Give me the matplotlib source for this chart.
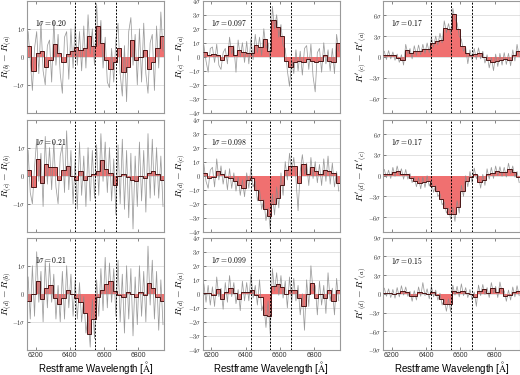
import numpy as np
import matplotlib
matplotlib.use("Agg")
import matplotlib.pyplot as plt

plt.rcParams["mathtext.fontset"] = "cm"
plt.rcParams["font.family"] = ["Liberation Sans", "DejaVu Sans"]

# wavelength grid (Angstrom)
bin_edges = np.arange(6150, 6951, 25)
gray_wave = np.arange(6150 + 6.25, 6950, 12.5)
line_waves = [6430, 6545, 6667]

ylabels = [
    [r"$R_{(b)} - R_{(a)}$", r"$R_{(c)} - R_{(a)}$", r"$R'_{(c)} - R'_{(a)}$"],
    [r"$R_{(c)} - R_{(b)}$", r"$R_{(d)} - R_{(c)}$", r"$R'_{(d)} - R'_{(c)}$"],
    [r"$R_{(d)} - R_{(b)}$", r"$R_{(d)} - R_{(a)}$", r"$R'_{(d)} - R'_{(a)}$"],
]
sigmas = [["0.20", "0.097", "0.17"], ["0.21", "0.098", "0.17"], ["0.21", "0.099", "0.15"]]

# binned residuals, in units of sigma
bins_11 = [0.4, -0.5, 0.15, 0.2, -0.35, -0.1, 0.45, 0.15, -0.2, 0.1, 0.2, 0.35, 0.25, 0.3, 0.75, 0.4,
           1.1, 0.5, -0.1, -0.45, -0.2, 0.3, -0.55, -0.35, 0.6, -0.1, 0.0, 0.25, -0.45, -0.2, 0.3, 0.75]
bins_12 = [0.35, 0.1, 0.2, 0.1, -0.25, 0.1, 0.75, 0.1, 0.5, 0.35, 0.3, 0.3, 0.85, 0.7, 1.3, 0.4,
           2.6, 2.1, 1.5, -0.3, -0.75, -0.4, -0.3, -0.35, -0.15, -0.3, -0.4, -0.3, 0.1, -0.3, -0.35, 1.0]
bins_13 = [0.2, 0.3, 0.2, -0.2, -0.4, 1.0, 0.5, 0.8, 0.9, 1.1, 1.2, 2.0, 2.3, 2.5, 4.2, 4.0,
           6.2, 4.0, 1.5, 0.5, 0.3, 0.4, 0.5, 0.0, -0.5, -0.8, -0.6, -0.4, -0.3, -0.4, 0.2, 0.8]
bins_21 = [0.2, -0.4, 0.6, -0.25, 0.4, 0.3, 0.3, -0.15, 0.2, 0.35, 0.0, -0.15, 0.15, -0.15, 0.0, 0.05,
           0.15, 0.55, 0.25, 0.1, -0.35, 0.0, 0.05, -0.05, -0.15, -0.2, 0.0, -0.1, 0.1, 0.15, 0.05, -0.15]
bins_22 = [0.2, -0.2, -0.1, 0.3, 0.1, -0.1, -0.2, -0.4, -0.7, -0.85, -0.3, -0.15, -1.0, -1.7, -2.4, -2.9,
           -2.0, -1.6, -0.7, 0.4, 0.7, 0.7, -0.5, 0.8, 0.1, 0.6, 0.3, 0.1, 0.4, 0.3, 0.2, -0.5]
bins_23 = [0.3, 0.3, 0.5, 0.7, 0.3, 0.2, -0.3, -0.8, -1.0, -0.9, -0.8, -1.5, -2.2, -3.4, -4.6, -5.5,
           -5.5, -4.5, -2.2, -0.8, -0.2, 0.3, -0.9, -0.6, 0.2, 0.4, 0.7, 0.6, 0.5, 1.0, 0.6, -0.2]
bins_31 = [-0.25, 0.0, 0.45, -0.2, 0.2, 0.3, -0.15, -0.35, -0.15, 0.15, 0.0, -0.15, -0.3, -0.7, -1.45, -0.9,
           -0.1, 0.15, 0.35, 0.45, 0.1, -0.05, -0.1, 0.05, 0.0, -0.1, 0.05, -0.05, 0.4, 0.2, -0.1, -0.25]
bins_32 = [0.05, 0.05, -0.1, 0.35, -0.35, 0.1, 0.45, 0.05, -0.4, 0.1, 0.1, 0.3, -0.1, -0.2, -1.5, -1.55,
           0.55, 0.7, 0.5, 0.0, 0.3, 0.3, -0.3, -0.9, 0.0, 0.75, -0.3, 0.0, -0.3, 0.3, -0.5, 0.3]
bins_33 = [0.2, 0.1, 0.0, 0.2, 0.5, 0.3, -0.4, -0.3, 0.3, 0.2, 0.0, 0.3, -0.2, -0.8, -1.7, -1.7,
           0.5, 0.3, 0.5, 0.2, -0.1, -0.5, 0.5, 0.7, 0.2, 0.9, 0.3, 1.0, -0.3, -0.2, 0.3, 0.5]

# unbinned residuals, in units of sigma
gray_11 = [0.9, -0.1, -1.2, 0.3, 0.9, -0.6, 1.2, -0.5, -1.0, 0.4, 0.6, -0.9, 1.3, -0.3, 0.8, -0.6,
           -1.3, 0.7, 0.9, -0.8, 1.0, -0.4, 1.2, -0.3, 0.9, -0.5, 1.1, -0.4, 1.5, 0.1, 1.0, -0.3,
           1.9, 0.4, 1.3, -0.4, 0.7, -0.9, -1.1, 0.3, -0.9, 0.6, 1.2, -0.6, -1.4, 0.4, -1.6, 0.9,
           1.4, -0.3, 0.8, -1.0, 1.0, -0.9, 1.2, -0.6, -1.3, 0.5, 0.8, -1.2, 1.1, -0.4, 1.6, 0.2]
gray_12 = [0.8, -0.3, -1.1, 0.6, 0.7, -0.4, 0.9, -0.6, -0.9, 0.3, 0.6, -0.5, 1.4, 0.2, 0.8, -1.1,
           1.2, 0.0, 1.0, -0.4, 1.1, -0.5, 1.3, -0.2, 1.6, 0.3, 1.4, 0.1, 2.0, 0.6, 1.0, -0.2,
           3.6, 2.0, 3.0, 1.4, 2.3, 0.8, 0.6, -1.0, -2.1, -0.2, -1.2, 0.5, -1.0, 0.4, -1.3, 0.6,
           0.8, -0.9, 0.9, -1.4, -2.5, 0.3, 0.6, -1.1, 1.0, -0.5, 0.5, -1.0, 0.6, -1.2, 1.6, 0.4]
gray_13 = [0.8, -0.4, 0.9, -0.3, 0.7, -0.5, 0.4, -0.8, 0.3, -1.2, 1.8, 0.4, 1.2, -0.3, 1.6, 0.2,
           1.7, 0.3, 1.8, 0.5, 2.0, 0.6, 2.8, 1.4, 3.0, 1.7, 3.4, 2.0, 5.2, 3.5, 4.8, 3.3,
           7.0, 5.4, 4.9, 3.0, 2.5, 0.8, 1.4, -1.0, 1.0, -0.5, 1.2, -0.4, 1.3, -0.3, 0.8, -0.9,
           0.3, -1.6, -0.1, -2.0, 0.4, -1.4, 0.5, -1.2, 0.6, -1.1, 0.5, -1.3, 1.0, -0.6, 1.8, 0.0]
gray_21 = [0.9, -0.6, -1.0, 0.3, 1.3, -0.2, 0.8, -1.1, 1.4, -0.3, 1.0, -0.5, 1.2, -0.4, -1.0, 0.7,
           1.1, -0.6, 1.6, -0.5, 0.9, -1.0, 0.6, -1.2, 1.2, -0.7, 0.7, -1.1, 1.0, -0.9, 0.9, -0.8,
           1.1, -0.7, 1.5, -0.2, 1.2, -0.6, 1.0, -0.9, 0.6, -1.4, 1.1, -1.0, 1.3, -1.2, 0.9, -1.5,
           0.8, -1.9, 0.7, -1.1, 1.2, -0.9, 0.9, -1.3, 1.5, -0.8, 1.3, -0.7, 1.0, -0.8, 0.7, -1.1]
gray_22 = [0.8, -0.4, -0.9, 0.4, 0.6, -0.8, 1.2, -0.3, 0.7, -0.6, 0.4, -1.0, 0.5, -0.9, 0.2, -1.1,
           -0.1, -1.4, -0.3, -1.5, 0.2, -0.9, 0.6, -0.8, -0.4, -1.8, -1.0, -2.4, -1.7, -3.2, -2.3, -3.8,
           -1.3, -2.8, -0.8, -2.3, 0.2, -1.4, 1.0, -0.3, 1.6, 0.2, 1.3, -0.2, -2.5, 0.3, 1.5, 0.1,
           0.9, -0.7, 1.3, -0.2, 1.0, -0.5, 0.8, -0.7, 1.2, -0.4, 1.4, -0.6, 0.9, -0.8, 0.3, -1.1]
gray_23 = [0.9, -0.3, 0.8, -0.4, 1.2, -0.1, 1.4, 0.1, 1.0, -0.5, 0.9, -0.5, 0.3, -1.0, -0.2, -1.6,
           -0.3, -1.9, -0.2, -1.7, 0.0, -1.5, -0.7, -2.4, -1.4, -3.0, -2.6, -4.2, -3.8, -5.4, -4.7, -6.3,
           -4.6, -6.6, -3.6, -5.4, -1.4, -3.0, 0.0, -1.6, 0.6, -1.0, 1.1, -0.4, 0.0, -1.8, 0.2, -1.4,
           1.0, -0.5, 1.2, -0.4, 1.4, 0.0, 1.3, -0.1, 1.2, -0.2, 1.8, 0.3, 1.4, -0.2, 0.6, -1.0]
gray_31 = [0.6, -0.9, 1.0, -0.8, 1.5, -0.3, 0.8, -1.0, 1.2, -0.5, 1.1, -0.3, 0.7, -0.9, 0.3, -1.0,
           0.8, -0.9, 1.0, -0.5, 0.7, -0.8, 0.5, -0.9, 0.4, -1.0, -0.1, -1.4, -0.8, -1.9, -0.2, -1.6,
           0.5, -0.8, 0.9, -0.6, 1.3, -0.5, 1.1, -0.3, 0.9, -0.8, 1.2, -1.0, 0.7, -1.4, 1.0, -0.9,
           0.9, -1.5, 0.6, -1.1, 1.0, -0.8, 0.8, -1.0, 1.7, -0.4, 1.2, -0.9, 0.8, -1.3, 0.5, -1.1]
gray_32 = [0.7, -0.6, 0.6, -0.8, 0.5, -0.9, 1.2, -0.2, 0.4, -1.1, 0.8, -0.6, 1.3, -0.2, 0.8, -0.7,
           0.3, -1.2, 0.9, -0.5, 0.8, -0.5, 1.4, -0.3, 0.6, -0.8, 1.0, -1.2, -0.7, -2.4, -0.5, -2.9,
           1.8, 0.2, 1.5, -0.1, 1.3, -0.3, 0.9, -1.0, 1.2, -0.6, 1.1, -0.5, 0.6, -1.5, 0.0, -2.6,
           1.0, -0.9, 2.0, 0.2, 0.6, -1.5, 0.9, -0.8, 0.6, -1.4, 1.5, -0.5, 0.4, -1.5, 1.1, -0.5]
gray_33 = [0.9, -0.4, 0.8, -0.6, 0.7, -0.7, 1.0, -0.5, 1.3, -0.2, 1.1, -0.4, 0.4, -1.2, 0.5, -1.0,
           1.1, -0.4, 1.8, -0.3, 0.8, -0.8, 1.2, -0.5, 0.6, -1.0, 0.1, -1.8, -0.9, -2.8, -0.8, -2.9,
           1.4, -0.2, 1.2, -0.5, 1.6, -0.3, 1.0, -0.6, 0.7, -1.0, 0.3, -2.0, 1.4, -0.3, 1.5, -0.1,
           1.0, -0.6, 1.8, 0.1, 1.2, -0.6, 1.9, 0.2, 0.5, -1.2, 0.6, -1.0, 1.1, -0.5, 1.3, -0.3]

binned = [[bins_11, bins_12, bins_13], [bins_21, bins_22, bins_23], [bins_31, bins_32, bins_33]]
unbinned = [[gray_11, gray_12, gray_13], [gray_21, gray_22, gray_23], [gray_31, gray_32, gray_33]]

ylims = [[2.0, 4.0, 8.1], [2.0, 4.0, 8.1], [2.0, 4.0, 9.0]]
yticks_col = [[-1, 0, 1], [-4, -3, -2, -1, 0, 1, 2, 3, 4], [-9, -6, -3, 0, 3, 6, 9]]
label_x = [-0.085, -0.10, -0.10]


def sig_label(v):
    if v == 0:
        return r"$0$"
    if v == 1:
        return r"$1\sigma$"
    if v == -1:
        return r"$-1\sigma$"
    return r"$%d\sigma$" % v


fig = plt.figure(figsize=(5.2, 3.75), dpi=100)
lefts = [0.052, 0.390, 0.737]
bottoms = [0.699, 0.382, 0.067]
width, height = 0.2635, 0.299

for i in range(3):
    for j in range(3):
        ax = fig.add_axes([lefts[j], bottoms[i], width, height])
        ax.stairs(binned[i][j], bin_edges, baseline=0, fill=True, color="#f07070", zorder=2)
        ax.plot(gray_wave, unbinned[i][j], color="#8a8a8a", lw=0.55, alpha=0.85, zorder=3)
        ax.stairs(binned[i][j], bin_edges, baseline=None, color="#4a1515", lw=0.7, zorder=4)
        for w in line_waves:
            ax.axvline(w, color="black", ls=(0, (2, 1.5)), lw=0.7, zorder=5)

        lim = ylims[i][j]
        ax.set_ylim(-lim, lim)
        ax.set_xlim(6150, 6950)
        yt = [t for t in yticks_col[j] if abs(t) <= lim + 1e-6]
        ax.set_yticks(yt)
        ax.set_yticklabels([sig_label(t) for t in yt], fontsize=4.5)
        ax.set_xticks([6200, 6400, 6600, 6800])
        ax.yaxis.grid(True, color="#dddddd", lw=0.6, zorder=0)
        ax.set_axisbelow(True)
        ax.tick_params(direction="in", length=2.5, width=0.5, top=True, right=False,
                       colors="#555555", labelcolor="#333333", pad=1.2)
        for s in ax.spines.values():
            s.set_color("#999999")
            s.set_linewidth(0.8)

        if i == 2:
            ax.set_xticklabels(["6200", "6400", "6600", "6800"], fontsize=5)
            ax.set_xlabel(r"Restframe Wavelength [$\mathrm{\AA}$]", fontsize=7, labelpad=0.5)
        else:
            ax.set_xticklabels([])

        ax.set_ylabel(ylabels[i][j], fontsize=7)
        ax.yaxis.set_label_coords(label_x[j], 0.5)
        ax.text(0.06, 0.80, r"$1\sigma = %s$" % sigmas[i][j], transform=ax.transAxes,
                fontsize=5.5, va="center", ha="left", zorder=6)

fig.savefig("out.png", dpi=100)
